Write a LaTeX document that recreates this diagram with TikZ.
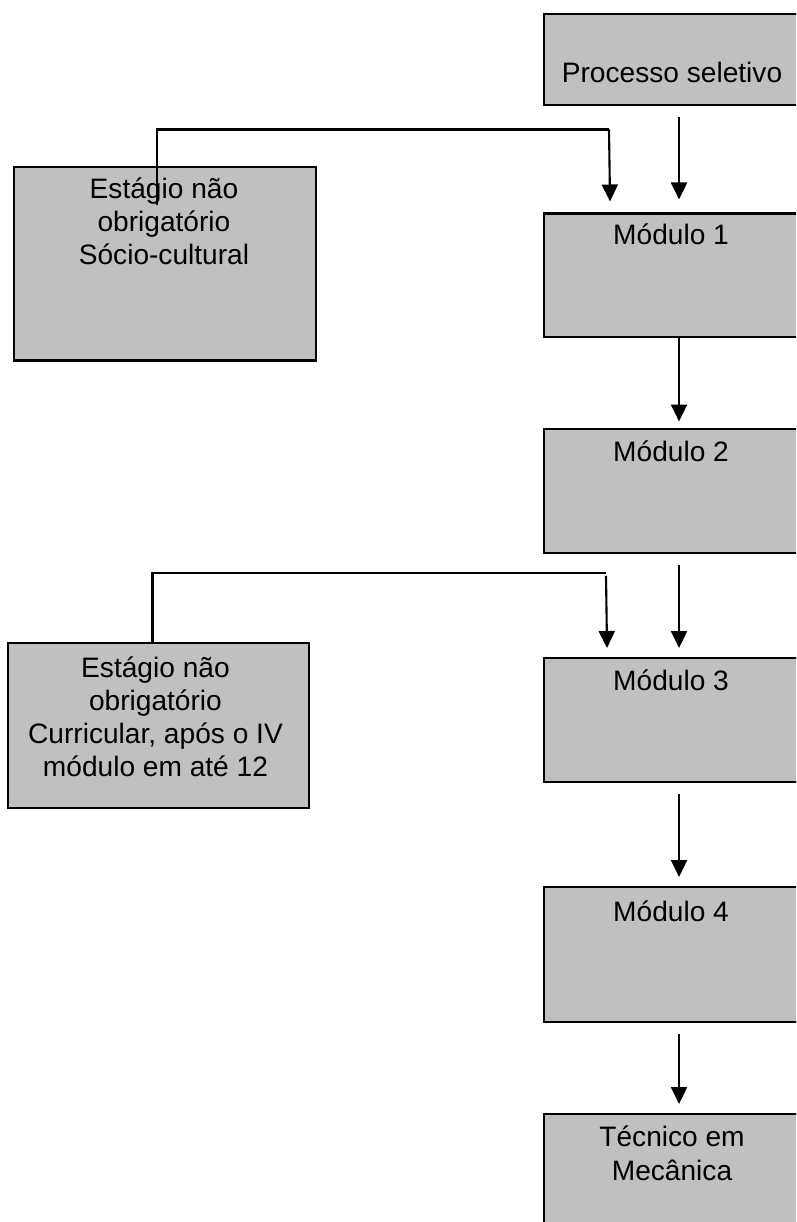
\documentclass[tikz,border=0pt]{standalone}
\usepackage{fontspec}
\setmainfont{Liberation Sans}
\usepackage{xcolor}
\usetikzlibrary{arrows.meta,positioning,calc}

\definecolor{boxgray}{RGB}{192,192,192}

\tikzset{
    box/.style={draw, line width=1.2pt, fill=boxgray, anchor=north west, inner sep=0pt, minimum width=5.16cm},
    txt/.style={font=\fontsize{16}{18.9}\selectfont, align=center, inner sep=0pt, anchor=base},
    link/.style={line width=1.2pt},
    arr/.style={line width=1.2pt, -{Triangle[length=0.34cm, width=0.32cm]}}
}

\begin{document}
\begin{tikzpicture}[x=0.02cm, y=-0.02cm]
    \useasboundingbox (0,0) rectangle (796,1222);
    \clip (0,0) rectangle (796,1222);

    % Main column
    \node[box, minimum height=1.82cm] (proc) at (543,12.7) {};
    \node[txt] (proct) at ($(proc.north)+(-1,70)$) {Processo seletivo};

    \foreach \n/\y/\h/\t in {1/212.5/2.47/32.5, 2/428/2.48/33, 3/657/2.48/33, 4/886/2.7/35} {
        \node[box, minimum height=\h cm] (m\n) at (543,\y) {};
        \node[txt] (m\n t) at ($(m\n.north)+(-2,\t)$) {Módulo \n};
    }

    \node[box, minimum height=2.6cm] (tec) at (543,1113) {};
    % base anchor sits on the last line
    \node[txt] (tect) at ($(tec.north)+(-1,67)$) {Técnico em\\Mecânica};

    % Side boxes
    \node[box, minimum width=6.05cm, minimum height=3.87cm] (soc) at (12.7,166) {};
    \node[txt] (soct) at ($(soc.north)+(-1,99)$) {Estágio não\\obrigatório\\Sócio-cultural};

    \node[box, minimum width=6.03cm, minimum height=3.3cm] (cur) at (6.7,641.7) {};
    \node[txt] (curt) at ($(cur.north)+(-3,135)$) {Estágio não\\obrigatório\\Curricular, após o IV\\módulo em até 12};

    % Arrows down the column
    \draw[arr] ($(proc.south)+(6,11)$) -- ($(m1.north)+(6,-13)$);
    \draw[arr] ($(m1.south)+(6,0)$) -- ($(m2.north)+(6,-6.5)$);
    \draw[arr] ($(m2.south)+(6,11)$) -- ($(m3.north)+(6,-9)$);
    \draw[arr] ($(m3.south)+(6,11)$) -- ($(m4.north)+(6,-9)$);
    \draw[arr] ($(m4.south)+(6,11)$) -- ($(tec.north)+(6,-9)$);

    % Links from the side boxes
    \coordinate (j1) at (609,129.5);
    \draw[link] ($(soc.north)+(-8,39)$) |- (j1);
    \draw[arr] (j1) -- ($(m1.north)+(-63,-11)$);

    \coordinate (j2) at (606,573);
    \draw[link] ($(cur.north)+(-6,0)$) |- (j2);
    \draw[arr] ($(j2)+(0,3)$) -- ($(m3.north)+(-66,-9)$);
\end{tikzpicture}
\end{document}
